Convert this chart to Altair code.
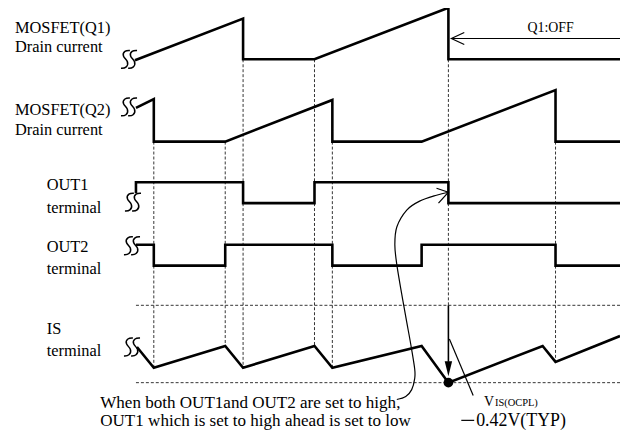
import altair as alt
import pandas as pd

# ---- waveform vertices (x, y in diagram units; y grows downward) ----
q1_x = [136, 245, 245, 317, 452, 452, 625]
q1_y = [59, 17, 58, 58, 6, 58, 58]
q2_x = [137, 155, 155, 227, 335, 335, 425, 560, 560, 625]
q2_y = [107, 98, 141, 141, 99, 141, 141, 89, 141, 141]
out1_x = [137, 137, 245, 245, 317, 317, 452, 452, 625]
out1_y = [193, 182, 182, 203, 203, 182, 182, 203, 203]
out2_x = [137, 155, 155, 227, 227, 335, 335, 425, 425, 560, 560, 625]
out2_y = [245, 245, 266, 266, 245, 245, 266, 266, 245, 245, 266, 266]
is_x = [138, 155, 227, 245, 317, 335, 425, 452, 547, 560, 625]
is_y = [348, 369, 347, 369, 347, 369, 347, 384, 347, 363, 337]

# ---- dashed timing guides ----
guide_x = [155, 227, 245, 317, 335, 452, 560]
guide_y1 = [141, 141, 58, 58, 141, 58, 141]
guide_y2 = [369, 347, 369, 347, 369, 306, 363]
level_y = [306, 384]
level_x1 = [137, 137]
level_x2 = [625, 625]

# ---- break symbols (centres) ----
break_x = [130, 130, 134, 133, 133]
break_y = [58, 106, 202, 246, 348]
s_dx = [4.5, -1, -3.5, 3.5, 1, -4.5]
s_dy = [-9, -9, -3, 2, 9, 9]

# ---- annotation geometry ----
q1off_x = [625, 455]
q1off_y = [37, 37]
q1off_head_x = [468, 455, 468]
q1off_head_y = [31, 37, 43]
curve_x = [400, 409, 415, 418, 418, 414, 410, 405, 400, 398, 400, 410, 423, 440, 452]
curve_y = [401, 398, 391, 380, 370, 345, 323, 295, 265, 245, 227, 210, 201, 195, 192]
curve_head_x = [440, 452, 442]
curve_head_y = [188, 192, 203]
leader_x = [453, 477]
leader_y = [340, 397]

# ---- text ----
label_text = ["MOSFET(Q1)", "Drain current", "MOSFET(Q2)", "Drain current",
              "OUT1", "terminal", "OUT2", "terminal", "IS", "terminal"]
label_x = [15, 15, 15, 15, 47, 47, 47, 47, 47, 47]
label_y = [31, 51, 114, 134, 190, 213, 252, 274, 335, 357]
note_text = ["When both OUT1and OUT2 are set to high,",
             "OUT1 which is set to high ahead is set to low"]
note_x = [101, 101]
note_y = [410, 428]

X = alt.Scale(domain=[8, 625], nice=False, zero=False)
Y = alt.Scale(domain=[8, 431], nice=False, zero=False, reverse=True)


def xy(x="x", y="y"):
    return dict(x=alt.X(f"{x}:Q", scale=X, axis=None), y=alt.Y(f"{y}:Q", scale=Y, axis=None))


rows = []
for name, xs, ys in [("q1", q1_x, q1_y), ("q2", q2_x, q2_y), ("o1", out1_x, out1_y),
                     ("o2", out2_x, out2_y), ("is", is_x, is_y)]:
    for i, (a, b) in enumerate(zip(xs, ys)):
        rows.append({"s": name, "o": i, "x": a, "y": b})
waves = pd.DataFrame(rows)

brk = []
for k, (cx, cy) in enumerate(zip(break_x, break_y)):
    for j, off in enumerate([-3.6, 3.6]):
        for i, (dx, dy) in enumerate(zip(s_dx, s_dy)):
            brk.append({"s": f"b{k}_{j}", "o": i, "x": cx + off + dx, "y": cy + dy})
brk = pd.DataFrame(brk)

guides = pd.DataFrame({"x": guide_x, "y": guide_y1, "y2": guide_y2})
levels = pd.DataFrame({"x": level_x1, "x2": level_x2, "y": level_y})

thin = []
for name, xs, ys in [("off", q1off_x, q1off_y), ("offh", q1off_head_x, q1off_head_y),
                     ("cur", curve_x, curve_y), ("curh", curve_head_x, curve_head_y),
                     ("lead", leader_x, leader_y)]:
    for i, (a, b) in enumerate(zip(xs, ys)):
        thin.append({"s": name, "o": i, "x": a, "y": b})
thin = pd.DataFrame(thin)
straight = thin[thin.s != "cur"]
curve = thin[thin.s == "cur"]

l_guides = alt.Chart(guides).mark_rule(strokeDash=[3, 2], strokeWidth=1, color="#333").encode(
    **xy(), y2="y2:Q")
l_levels = alt.Chart(levels).mark_rule(strokeDash=[3, 2], strokeWidth=1, color="#333").encode(
    **xy(), x2="x2:Q")
l_waves = alt.Chart(waves).mark_line(color="black", strokeWidth=2.6, strokeJoin="miter").encode(
    **xy(), detail="s:N", order="o:Q")
l_breaks = alt.Chart(brk).mark_line(color="black", strokeWidth=1.5, interpolate="basis").encode(
    **xy(), detail="s:N", order="o:Q")
l_straight = alt.Chart(straight).mark_line(color="black", strokeWidth=1.2).encode(
    **xy(), detail="s:N", order="o:Q")
l_curve = alt.Chart(curve).mark_line(color="black", strokeWidth=1.2, interpolate="cardinal").encode(
    **xy(), order="o:Q")

arrow_line = pd.DataFrame({"x": [452], "y": [306], "y2": [363]})
l_arrow = alt.Chart(arrow_line).mark_rule(color="black", strokeWidth=1.6).encode(**xy(), y2="y2:Q")
l_tri = alt.Chart(pd.DataFrame({"x": [452], "y": [370]})).mark_point(
    shape="M-0.5,-1L0.5,-1L0,1Z", size=225, filled=True, color="black", opacity=1).encode(**xy())
l_dot = alt.Chart(pd.DataFrame({"x": [452], "y": [384]})).mark_point(
    shape="circle", size=95, filled=True, color="black", opacity=1).encode(**xy())

labels = pd.DataFrame({"x": label_x, "y": label_y, "t": label_text})
l_labels = alt.Chart(labels).mark_text(font="Liberation Serif", fontSize=16.5, align="left",
                                       baseline="alphabetic", color="black").encode(**xy(), text="t:N")
notes = pd.DataFrame({"x": note_x, "y": note_y, "t": note_text})
l_notes = alt.Chart(notes).mark_text(font="Liberation Serif", fontSize=17.2, align="left",
                                     baseline="alphabetic", color="black").encode(**xy(), text="t:N")
l_q1off = alt.Chart(pd.DataFrame({"x": [555], "y": [30], "t": ["Q1:OFF"]})).mark_text(
    font="Liberation Serif", fontSize=14, align="center", baseline="alphabetic", color="black").encode(
    **xy(), text="t:N")
l_v = alt.Chart(pd.DataFrame({"x": [488], "y": [408], "t": ["V"]})).mark_text(
    font="Liberation Serif", fontSize=14, align="left", baseline="alphabetic", color="black").encode(
    **xy(), text="t:N")
l_vsub = alt.Chart(pd.DataFrame({"x": [499], "y": [408], "t": ["IS(OCPL)"]})).mark_text(
    font="Liberation Serif", fontSize=10.5, align="left", baseline="alphabetic", color="black").encode(
    **xy(), text="t:N")
l_minus = alt.Chart(pd.DataFrame({"x": [465], "x2": [478], "y": [422]})).mark_rule(
    color="black", strokeWidth=1.2).encode(**xy(), x2="x2:Q")
l_val = alt.Chart(pd.DataFrame({"x": [480], "y": [428], "t": ["0.42V(TYP)"]})).mark_text(
    font="Liberation Serif", fontSize=18, align="left", baseline="alphabetic", color="black").encode(
    **xy(), text="t:N")

chart = alt.layer(
    l_guides, l_levels, l_waves, l_breaks, l_straight, l_curve, l_arrow, l_tri, l_dot,
    l_labels, l_notes, l_q1off, l_v, l_vsub, l_minus, l_val
).properties(
    width=617, height=423, autosize=alt.AutoSizeParams(type="none"), padding=0
).configure_view(stroke=None)

chart.save("out.html", embed_options={"renderer": "svg", "actions": False})
